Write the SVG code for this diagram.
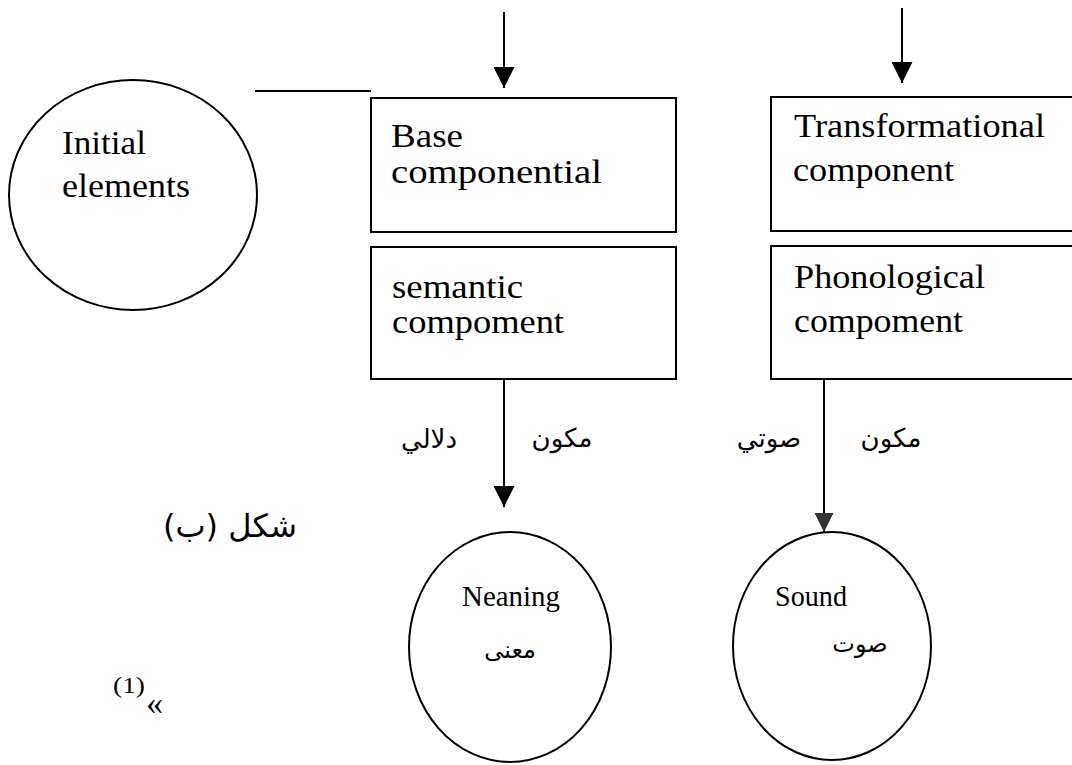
<svg xmlns="http://www.w3.org/2000/svg" width="1072" height="765" viewBox="0 0 1072 765">
  <style>
    .shape { fill: none; stroke: #000; stroke-width: 2; }
    .line { stroke: #000; stroke-width: 2; fill: none; }
    .en { font-family: "Liberation Serif", "Times New Roman", serif; font-size: 34px; fill: #000; }
    .en-sm { font-family: "Liberation Serif", "Times New Roman", serif; font-size: 30px; fill: #000; }
    .ar { font-family: "DejaVu Sans", "Noto Sans", sans-serif; font-size: 26px; fill: #000; direction: rtl; unicode-bidi: embed; text-anchor: middle; }
    .ar-in { font-size: 24px; }
    .ar-cap { font-size: 32px; }
    .note { font-family: "Liberation Serif", "Times New Roman", serif; fill: #000; }
  </style>
  <defs>
    <marker id="head" viewBox="0 0 10 10" refX="10" refY="5" markerUnits="userSpaceOnUse" markerWidth="21" markerHeight="21" orient="auto">
      <path d="M0,0 L10,5 L0,10 Z" fill="#000"/>
    </marker>
    <marker id="head-grey" viewBox="0 0 10 10" refX="10" refY="5" markerUnits="userSpaceOnUse" markerWidth="20" markerHeight="19" orient="auto">
      <path d="M0,0 L10,5 L0,10 Z" fill="#333"/>
    </marker>
  </defs>

  <rect width="1072" height="765" fill="#fff"/>

  <g id="connectors">
    <line class="line" x1="255" y1="91" x2="371" y2="91"/>
    <line class="line" x1="504" y1="12" x2="504" y2="88" marker-end="url(#head)"/>
    <line class="line" x1="902" y1="8" x2="902" y2="83" marker-end="url(#head)"/>
    <line class="line" x1="504" y1="379" x2="504" y2="507" marker-end="url(#head)"/>
    <line class="line" x1="824" y1="379" x2="824" y2="532" stroke="#333" marker-end="url(#head-grey)"/>
  </g>

  <g id="initial-elements">
    <ellipse class="shape" cx="133" cy="195" rx="124" ry="115"/>
    <text class="en" x="62" y="154" textLength="84" lengthAdjust="spacingAndGlyphs">Initial</text>
    <text class="en" x="62" y="197" textLength="128" lengthAdjust="spacingAndGlyphs">elements</text>
  </g>

  <g id="base-component">
    <rect class="shape" x="371" y="98" width="305" height="134"/>
    <text class="en" x="391" y="147" textLength="72" lengthAdjust="spacingAndGlyphs">Base</text>
    <text class="en" x="391" y="183" textLength="211" lengthAdjust="spacingAndGlyphs">componential</text>
  </g>

  <g id="semantic-component">
    <rect class="shape" x="371" y="247" width="305" height="132"/>
    <text class="en" x="392" y="298" textLength="131" lengthAdjust="spacingAndGlyphs">semantic</text>
    <text class="en" x="392" y="333" textLength="172" lengthAdjust="spacingAndGlyphs">compoment</text>
  </g>

  <g id="transformational-component">
    <rect class="shape" x="771" y="97" width="320" height="134"/>
    <text class="en" x="794" y="137" textLength="251" lengthAdjust="spacingAndGlyphs">Transformational</text>
    <text class="en" x="793" y="181" textLength="161" lengthAdjust="spacingAndGlyphs">component</text>
  </g>

  <g id="phonological-component">
    <rect class="shape" x="771" y="246" width="320" height="133"/>
    <text class="en" x="794" y="288" textLength="191" lengthAdjust="spacingAndGlyphs">Phonological</text>
    <text class="en" x="794" y="332" textLength="169" lengthAdjust="spacingAndGlyphs">compoment</text>
  </g>

  <g id="semantic-label">
    <text class="ar" x="429" y="448">دلالي</text>
    <text class="ar" x="562" y="447">مكون</text>
  </g>

  <g id="phonological-label">
    <text class="ar" x="769" y="447">صوتي</text>
    <text class="ar" x="891" y="447">مكون</text>
  </g>

  <g id="meaning">
    <ellipse class="shape" cx="510" cy="647" rx="101" ry="115"/>
    <text class="en-sm" x="462" y="606" textLength="98" lengthAdjust="spacingAndGlyphs">Neaning</text>
    <text class="ar ar-in" x="510" y="658">معنى</text>
  </g>

  <g id="sound">
    <ellipse class="shape" cx="832" cy="646" rx="99" ry="114"/>
    <text class="en-sm" x="775" y="606" textLength="72" lengthAdjust="spacingAndGlyphs">Sound</text>
    <text class="ar ar-in" x="860" y="652">صوت</text>
  </g>

  <g id="caption">
    <text class="ar ar-cap" x="230" y="537">شكل (ب)</text>
    <text class="note" x="113" y="693" style="font-size:23px" textLength="32" lengthAdjust="spacingAndGlyphs">(1)</text>
    <text class="note" x="146" y="714" style="font-size:34px">«</text>
  </g>
</svg>
